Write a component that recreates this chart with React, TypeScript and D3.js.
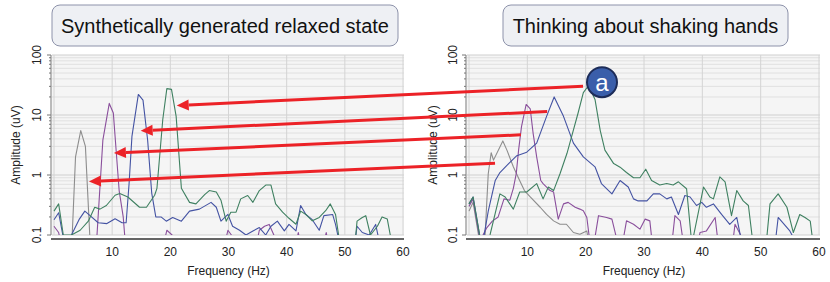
import * as d3 from "d3";

type Pt = [number, number];

// frequency (Hz), amplitude (uV) pairs
const leftGray: Pt[] = [[3.0, 0.05], [3.7, 2.0], [4.6, 5.5], [5.4, 3.0], [6.3, 0.05]];
const leftPurple: Pt[] = [
  [0, 0.14], [0.8, 0.11], [1.5, 0.05], [7.2, 0.05], [8.0, 0.9], [8.4, 3.8], [9.5, 15.6], [10.2, 10.8],
  [11.2, 0.55], [11.9, 0.2], [12.4, 0.05], [18.5, 0.05], [19.4, 0.12], [20.3, 0.1], [21, 0.05],
  [29.0, 0.05], [29.9, 0.12], [30.5, 0.1], [31.2, 0.05], [34.5, 0.05], [35.3, 0.12], [36.2, 0.14],
  [37, 0.15], [37.8, 0.1], [38.5, 0.05], [41.3, 0.05], [42, 0.11], [42.7, 0.05], [46, 0.05],
  [46.8, 0.11], [47.5, 0.05],
];
const leftBlue: Pt[] = [
  [0, 0.18], [0.8, 0.235], [1.6, 0.09], [2.2, 0.05], [3.0, 0.1], [4.3, 0.18], [5.3, 0.25], [6.2, 0.21],
  [7.6, 0.16], [9.1, 0.155], [10.5, 0.186], [11.7, 0.16], [12.4, 0.16], [12.9, 0.7], [13.4, 4.4],
  [14.5, 22], [15.3, 17.7], [16.1, 3.8], [16.8, 0.5], [17.5, 0.2], [18.4, 0.2], [19.3, 0.17],
  [20.4, 0.196], [21.9, 0.17], [23.3, 0.25], [25, 0.27], [27, 0.35], [27.9, 0.29], [28.7, 0.17],
  [29.9, 0.22], [30.7, 0.14], [31.9, 0.12], [33, 0.1], [34.2, 0.117], [35.3, 0.133], [36.4, 0.1],
  [37.3, 0.14], [38.4, 0.17], [39.6, 0.117], [40.4, 0.15], [41.6, 0.117], [42.4, 0.31], [43.3, 0.22],
  [44.4, 0.18], [45.6, 0.12], [46.4, 0.21], [47.9, 0.22], [48.4, 0.15], [49, 0.08], [49.5, 0.05],
  [51.5, 0.05], [52.1, 0.14], [53, 0.11], [54.2, 0.1], [55.3, 0.15], [55.9, 0.08], [56.3, 0.05],
];
const leftGreen: Pt[] = [
  [0, 0.25], [0.8, 0.33], [1.6, 0.1], [3.0, 0.1], [4.5, 0.12], [5.9, 0.17], [7.0, 0.29], [7.9, 0.27],
  [9.0, 0.31], [10.5, 0.46], [11.3, 0.49], [12.7, 0.43], [14.7, 0.29], [15.9, 0.29], [17.3, 0.46],
  [17.7, 0.6], [18.7, 8.4], [19.4, 27.5], [20.2, 26.7], [21.0, 9.5], [21.9, 0.6], [23.3, 0.35],
  [24.4, 0.33], [25.9, 0.47], [26.7, 0.55], [27.9, 0.52], [28.7, 0.38], [29.6, 0.17], [30.4, 0.24],
  [31.3, 0.24], [32.1, 0.4], [33.3, 0.455], [34.2, 0.35], [35.3, 0.55], [36.4, 0.68], [37.3, 0.68],
  [38.1, 0.33], [39.3, 0.24], [40.4, 0.19], [41.6, 0.151], [42.4, 0.25], [43.3, 0.22], [44.4, 0.172],
  [45.6, 0.196], [46.7, 0.254], [47.5, 0.33], [48.4, 0.22], [49.0, 0.09], [49.4, 0.05], [51.6, 0.05],
  [52.1, 0.17], [53, 0.196], [53.6, 0.21], [54.4, 0.1], [55.6, 0.14], [56.4, 0.2], [57.3, 0.184],
  [57.9, 0.09], [58.3, 0.05],
];

const rightGray: Pt[] = [
  [0, 0.25], [0.7, 0.35], [1.9, 0.07], [2.6, 0.05], [3.3, 1.05], [3.8, 2.35], [4.2, 1.77], [5.8, 3.7],
  [6.5, 2.6], [7.6, 1.37], [8.7, 0.8], [9.5, 0.55], [10.5, 0.43], [12.2, 0.29], [13.3, 0.22],
  [14.5, 0.172], [15.6, 0.151], [16.7, 0.151], [17.9, 0.11], [19, 0.103], [20.2, 0.117], [20.8, 0.05],
];
const rightPurple: Pt[] = [
  [0, 0.3], [0.7, 0.4], [1.9, 0.08], [3.0, 0.13], [4.0, 0.17], [5.0, 0.2], [6.0, 0.4], [7.0, 0.38],
  [7.6, 0.6], [8.1, 1.05], [8.5, 2.6], [9.0, 6.4], [9.8, 15], [10.5, 12.6], [11.0, 4.9], [11.6, 2.0],
  [12.3, 0.81], [12.7, 0.72], [13.9, 0.55], [14.5, 0.52], [15.3, 0.184], [16.2, 0.33], [17.0, 0.35],
  [18.2, 0.29], [19.0, 0.27], [19.6, 0.254], [20.2, 0.196], [20.7, 0.08], [21.5, 0.08], [22.2, 0.21],
  [23.6, 0.196], [24.5, 0.184], [25.4, 0.08], [26.4, 0.08], [27.0, 0.172], [28.2, 0.151],
  [29.3, 0.125], [30.2, 0.184], [31.0, 0.172], [31.6, 0.05], [34.6, 0.05], [35.3, 0.21],
  [36.2, 0.172], [37.0, 0.05], [39.0, 0.05], [39.6, 0.11], [40.7, 0.117], [42.2, 0.196], [42.9, 0.05],
  [45, 0.05], [45.6, 0.151], [46.5, 0.103], [46.9, 0.05],
];
const rightBlue: Pt[] = [
  [0, 0.33], [0.7, 0.43], [1.9, 0.09], [2.6, 0.1], [3.3, 0.25], [4.5, 0.81], [5.3, 1.1], [6.5, 1.45],
  [8.2, 2.1], [9.9, 2.4], [11.6, 3.4], [13.3, 9.5], [14.6, 20], [16.2, 9.5], [17.9, 3.4], [19.6, 2.0],
  [21.6, 1.37], [22.7, 0.72], [24.5, 0.485], [25.9, 0.81], [27.3, 0.63], [28.2, 0.4], [29.0, 0.37],
  [30.5, 0.37], [31.6, 0.485], [32.7, 0.485], [33.9, 0.4], [34.7, 0.43], [35.9, 0.22], [37.0, 0.455],
  [37.9, 0.43], [39.0, 0.31], [39.9, 0.35], [40.7, 0.29], [41.9, 0.33], [43.3, 0.22], [44.7, 0.15],
  [45.9, 0.196], [46.7, 0.08], [47.2, 0.05], [52.3, 0.05], [53.0, 0.196], [55.0, 0.117], [55.9, 0.08],
  [56.3, 0.05],
];
const rightGreen: Pt[] = [
  [0, 0.33], [0.7, 0.43], [1.9, 0.09], [3.0, 0.08], [3.6, 0.1], [5.3, 0.485], [6.2, 0.43], [7.6, 0.27],
  [8.7, 0.52], [9.9, 0.52], [11.6, 0.72], [12.7, 0.4], [13.6, 0.63], [14.5, 0.55], [15.6, 1.05],
  [16.8, 2.3], [17.6, 4.4], [18.7, 10.8], [19.6, 23.6], [20.5, 31], [21.6, 18.2], [22.5, 5.5],
  [23.3, 2.6], [24.8, 1.55], [25.9, 1.35], [27.0, 1.1], [28.2, 0.9], [29.3, 0.9], [30.3, 1.25],
  [31.3, 0.81], [32.7, 0.68], [33.9, 0.72], [35.0, 0.68], [35.9, 0.77], [37.3, 0.59], [38.2, 0.07],
  [40.2, 0.63], [41.3, 0.43], [41.9, 0.4], [43.0, 0.93], [43.9, 0.77], [45.0, 0.21], [45.9, 0.55],
  [47.0, 0.37], [47.9, 0.31], [48.7, 0.07], [49.2, 0.05], [50.8, 0.05], [51.6, 0.33], [53.0, 0.485],
  [54.5, 0.29], [55.6, 0.11], [56.7, 0.22], [57.6, 0.196], [58.5, 0.17], [59.0, 0.07], [59.3, 0.05],
];

const titles = ["Synthetically generated relaxed state", "Thinking about shaking hands"];
const xTicks = [10, 20, 30, 40, 50, 60];
const yTicks = [0.1, 1, 10, 100];
const yTickLabels = ["0.1", "1", "10", "100"];

// arrows: start on the right panel peak, tip on the left panel peak
const arrowFrom: Pt[] = [[19.55, 30.1], [13.4, 11.4], [8.9, 4.67], [4.46, 1.57]];
const arrowTo: Pt[] = [[21.1, 14.4], [14.9, 5.46], [10.3, 2.32], [6.0, 0.78]];
const markerAt: Pt = [22.8, 35.2];

const colors = { gray: "#8d8d8d", purple: "#8a4f9c", blue: "#4453a3", green: "#3f8061" };

const W = 830;
const H = 282;
const y = d3.scaleLog().domain([0.1, 100]).range([235, 55]);
const xL = d3.scaleLinear().domain([0, 60]).range([54, 403]);
const xR = d3.scaleLinear().domain([0, 60]).range([469, 819]);

function Panel({ x, series, title, boxX, boxW, id, axisLabelX, tickLabelX }: any) {
  const [x0, x1] = x.range();
  const left = x0 - 2;
  const right = x1 + 1;
  const line = d3
    .line<Pt>()
    .x((d) => x(d[0]))
    .y((d) => y(d[1]));
  const minor = y.ticks();
  return (
    <g>
      <rect x={boxX} y={5} width={boxW} height={41} rx={8} fill="#eef0f4" stroke="#8d92aa" strokeWidth={1} />
      <text x={boxX + boxW / 2} y={33} textAnchor="middle" fontSize={20} fill="#111">
        {title}
      </text>
      <clipPath id={id}>
        <rect x={left} y={y(100)} width={right - left} height={y(0.1) - y(100)} />
      </clipPath>
      <rect x={left} y={y(100)} width={right - left} height={y(0.1) - y(100)} fill="#f5f5f5" />
      {minor.map((t: number, i: number) => (
        <line key={i} x1={left} x2={right} y1={y(t)} y2={y(t)} stroke={yTicks.includes(t) ? "#cfcfcf" : "#e0e0e0"} strokeWidth={1} />
      ))}
      {[0, ...xTicks].map((t) => (
        <line key={t} x1={x(t)} x2={x(t)} y1={y(100)} y2={y(0.1)} stroke="#d4d4d4" strokeWidth={1} />
      ))}
      <g clipPath={`url(#${id})`} fill="none" strokeWidth={1.1} strokeLinejoin="round">
        {series.map((s: any, i: number) => (
          <path key={i} d={line(s.data) || ""} stroke={s.color} />
        ))}
      </g>
      {/* y axis */}
      <line x1={left - 1} x2={left - 1} y1={y(100)} y2={y(0.1)} stroke="#777" strokeWidth={1} />
      {minor.map((t: number, i: number) => (
        <line key={i} x1={left - 1} x2={left - (yTicks.includes(t) ? 5 : 3)} y1={y(t)} y2={y(t)} stroke="#777" strokeWidth={1} />
      ))}
      {yTicks.map((t, i) => (
        <text key={t} transform={`translate(${tickLabelX},${y(t)}) rotate(-90)`} textAnchor="middle" dy="0.35em" fontSize={12} fill="#222">
          {yTickLabels[i]}
        </text>
      ))}
      <text transform={`translate(${axisLabelX},145) rotate(-90)`} textAnchor="middle" dy="0.35em" fontSize={12} fill="#222">
        Amplitude (uV)
      </text>
      {/* x axis */}
      <line x1={left - 1} x2={right} y1={239} y2={239} stroke="#666" strokeWidth={2} />
      {xTicks.map((t) => (
        <text key={t} x={x(t)} y={256} textAnchor="middle" fontSize={12} fill="#222">
          {t}
        </text>
      ))}
      <text x={(x0 + x1) / 2} y={275} textAnchor="middle" fontSize={12} fill="#222">
        Frequency (Hz)
      </text>
    </g>
  );
}

function Arrow({ from, to }: { from: Pt; to: Pt }) {
  const sx = xR(from[0]);
  const sy = y(from[1]);
  const tx = xL(to[0]);
  const ty = y(to[1]);
  const ang = Math.atan2(ty - sy, tx - sx);
  const len = 12;
  const hw = 5.5;
  const bx = tx - len * Math.cos(ang);
  const by = ty - len * Math.sin(ang);
  const px = -Math.sin(ang) * hw;
  const py = Math.cos(ang) * hw;
  return (
    <g>
      <line x1={sx} y1={sy} x2={bx} y2={by} stroke="#ec2227" strokeWidth={3} />
      <polygon points={`${tx},${ty} ${bx + px},${by + py} ${bx - px},${by - py}`} fill="#ec2227" />
    </g>
  );
}

export default function App() {
  const leftSeries = [
    { data: leftGray, color: colors.gray },
    { data: leftPurple, color: colors.purple },
    { data: leftBlue, color: colors.blue },
    { data: leftGreen, color: colors.green },
  ];
  const rightSeries = [
    { data: rightGray, color: colors.gray },
    { data: rightPurple, color: colors.purple },
    { data: rightBlue, color: colors.blue },
    { data: rightGreen, color: colors.green },
  ];
  return (
    <svg
      width={W}
      height={H}
      style={{ position: "absolute", left: 0, top: 0, background: "#fff" }}
      fontFamily="'Liberation Sans', Arial, sans-serif"
    >
      <Panel x={xL} series={leftSeries} title={titles[0]} boxX={52} boxW={346} id="clipL" axisLabelX={16} tickLabelX={37} />
      <Panel x={xR} series={rightSeries} title={titles[1]} boxX={503} boxW={285} id="clipR" axisLabelX={433} tickLabelX={453} />
      {arrowFrom.map((f, i) => (
        <Arrow key={i} from={f} to={arrowTo[i]} />
      ))}
      <circle cx={xR(markerAt[0])} cy={y(markerAt[1])} r={15} fill="#3a5eaa" stroke="#1d2c58" strokeWidth={2} />
      <text x={xR(markerAt[0])} y={y(markerAt[1])} dy="0.35em" textAnchor="middle" fontSize={24} fill="#fff">
        a
      </text>
    </svg>
  );
}
